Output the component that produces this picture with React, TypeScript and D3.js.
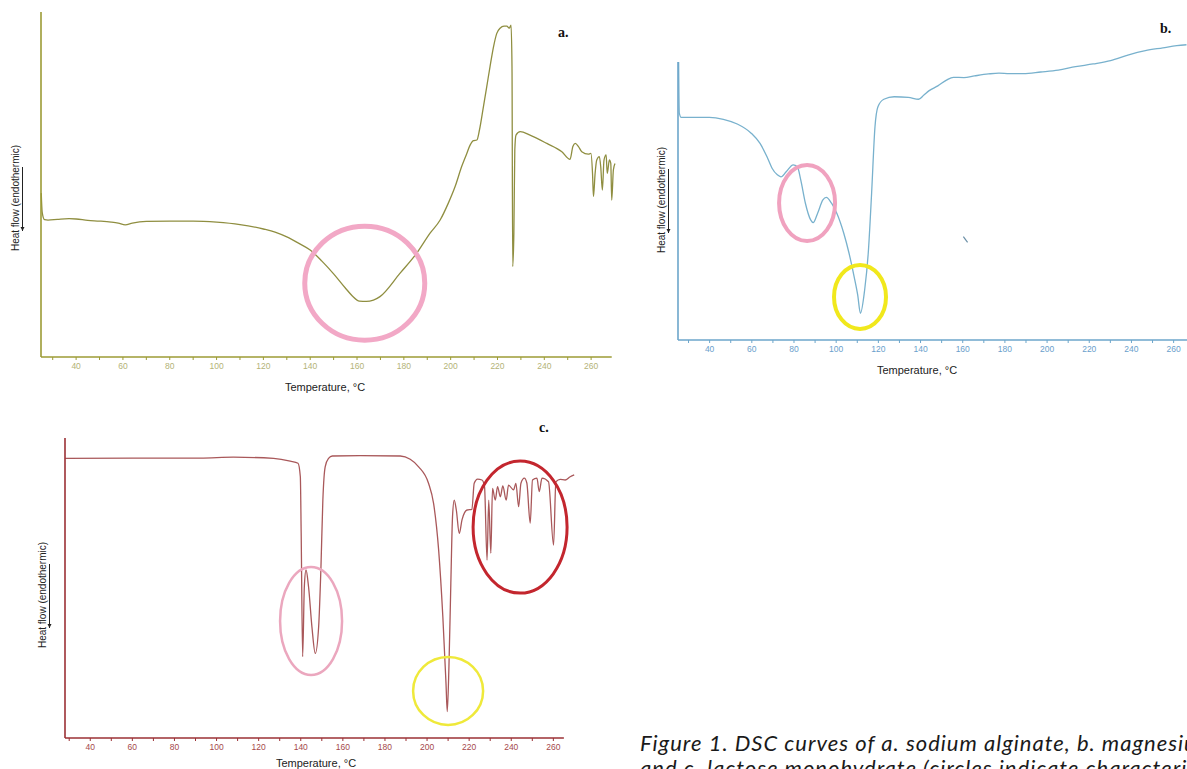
import React from "react";
import * as d3 from "d3";

// a. sodium alginate
const tempA = [25.1, 25.5, 26.5, 28, 32, 37, 40, 45, 50, 55, 58, 61, 64, 70, 80, 90, 100, 110, 120, 125, 130, 135, 140, 145, 150, 155, 158, 161, 164, 167, 169.8, 178.4, 185.5, 191.2, 195.5, 199, 201.9, 204.7, 206.9, 208.3, 209.7, 211.2, 212.3, 214, 215.4, 216.8, 218.3, 219.7, 221.1, 222.8, 224, 225, 225.8, 226.2, 226.5, 227, 227.4, 227.9, 229.7, 233.9, 241.1, 247.5, 251, 252.2, 253.2, 254.6, 256, 258.8, 259.9, 260.6, 261, 261.7, 262.4, 263.5, 264.1, 264.8, 265.5, 266.4, 266.9, 267.8, 268.4, 268.8, 269.5, 270.2];
const flowA = [47.5, 42.0, 39.8, 39.7, 39.9, 40.1, 40.0, 39.6, 39.4, 39.1, 38.8, 38.3, 38.8, 39.3, 39.4, 39.4, 39.1, 38.4, 37.1, 36.2, 34.8, 33.0, 31.0, 27.8, 24.1, 20.0, 17.7, 16.2, 16.1, 16.5, 17.5, 24.3, 30.1, 35.9, 39.7, 44.6, 49.4, 55.2, 59.0, 61.4, 62.7, 62.9, 65.8, 72.6, 78.3, 84.1, 89.9, 93.8, 95.3, 95.9, 95.9, 95.3, 96.2, 84.1, 26.2, 35.9, 60.0, 64.3, 65.3, 64.3, 61.9, 59.5, 57.3, 61.0, 61.9, 61.0, 59.5, 58.8, 59.0, 53.2, 46.5, 53.2, 57.1, 58.1, 55.2, 48.4, 57.1, 58.6, 53.2, 57.1, 56.1, 45.5, 54.2, 56.1];

// b. magnesium stearate
const tempB = [25.3, 25.6, 26.5, 27.5, 39.9, 46.5, 53.1, 59.7, 63.9, 67.2, 69.6, 72.1, 73.8, 76.3, 79.6, 81.6, 83.2, 85.4, 87.9, 89.1, 91.2, 93.7, 95.3, 97.8, 100.3, 103.6, 106.1, 108.5, 110.2, 111.5, 113.5, 115.2, 116.8, 118.4, 119.8, 122.6, 127.5, 134.2, 139.1, 141.6, 144.1, 148.2, 152.3, 155.6, 160.6, 165.6, 172.2, 177.2, 182.1, 188.8, 197, 205.3, 213.5, 221.8, 230.1, 238.3, 246.6, 254.9, 261.5, 266.1];
const flowB = [100, 81.7, 80.1, 80.1, 80.1, 79.4, 77.7, 74.4, 70.7, 65.9, 61.8, 59.4, 58.7, 60.5, 63.0, 62.3, 57.6, 49.2, 43.2, 42.2, 45.6, 50.4, 51.3, 49.2, 45.6, 38.4, 31.2, 22.8, 16.2, 9.6, 18.0, 31.2, 52.8, 76.7, 83.9, 86.6, 87.5, 87.3, 86.6, 88.1, 89.7, 91.4, 93.5, 94.5, 94.4, 95.0, 95.7, 96.0, 95.8, 95.8, 96.4, 97.1, 98.3, 99.3, 100.5, 102.5, 104.1, 105.1, 105.9, 106.2];
const strayB = [[160.3, 37.2], [162.3, 35.1]];

// c. lactose monohydrate
const tempC = [28.1, 60, 92.3, 108, 127.1, 135, 138.7, 139.8, 140.2, 140.9, 141.7, 142.5, 143.7, 145.3, 146.9, 148.5, 149.6, 150.5, 151.6, 153.2, 155, 168.3, 187.3, 192, 196, 200.7, 203.1, 205.5, 207.5, 209, 209.6, 210.4, 211.3, 212.1, 212.9, 213.9, 215.3, 216.6, 219, 221.3, 222.4, 224, 226.1, 227.3, 228.5, 229.3, 230.3, 231.1, 232.4, 233.5, 234.8, 236, 237.6, 238.7, 241.1, 242.2, 243.5, 244.6, 246.2, 247.4, 249, 250.1, 252.2, 253.3, 254.6, 257.7, 260.1, 261.2, 263.3, 265.6, 268, 269.9];
const flowC = [93.2, 93.3, 93.3, 93.6, 93.2, 92.3, 91.6, 87.1, 68.3, 27.1, 50.4, 56.0, 50.4, 37.1, 28.2, 37.1, 57.1, 79.3, 90.4, 93.2, 94.0, 94.1, 94.0, 92.9, 90.4, 84.9, 78.2, 62.7, 40.4, 18.2, 8.8, 23.8, 51.6, 73.8, 79.3, 76.0, 68.2, 72.7, 76.0, 76.2, 84.9, 86.3, 86.0, 83.8, 59.3, 79.3, 61.6, 83.2, 79.3, 83.8, 80.4, 84.0, 79.3, 84.3, 82.7, 84.9, 77.1, 84.9, 86.6, 85.0, 71.6, 86.0, 86.6, 82.1, 86.6, 85.4, 64.3, 85.4, 86.2, 86.0, 87.1, 87.7];

const minorTicks = d3.range(30, 261, 10);
const tickLabels = [40, 60, 80, 100, 120, 140, 160, 180, 200, 220, 240, 260];

// circles marking characteristic peaks: [temperature, heat flow]
const peaksA = [[163.3, 21.4]];
const peaksB = [[86.2, 49.3], [111.3, 15.5]];
const peaksC = [[144.9, 39], [210, 15.7], [244.2, 70.3]];

const captionLines = [
  "Figure 1. DSC curves of a. sodium alginate, b. magnesium stearate",
  "and c. lactose monohydrate (circles indicate characteristic peaks)",
];

const panels = [
  {
    id: "a", temp: tempA, flow: flowA, extra: null, peaks: peaksA,
    domain: [25, 270.2], axisEnd: 268.8,
    left: 41, right: 615, top: 12, bottom: 357,
    line: "#8f8e40", axis: "#9c9b35", label: "#b4b377",
    titleX: 325, titleDy: 34, ylabX: 15, ylabY: 198, tagX: 558, tagY: 37,
    rings: [{ rx: 60, ry: 57, c: "#f2a8c6", w: 5 }],
  },
  {
    id: "b", temp: tempB, flow: flowB, extra: strayB, peaks: peaksB,
    domain: [25, 268], axisEnd: 268,
    left: 678, right: 1190.5, top: 62, bottom: 340,
    line: "#78b1cd", axis: "#6ca6cb", label: "#6aa0cc",
    titleX: 917, titleDy: 34, ylabX: 661, ylabY: 200, tagX: 1160, tagY: 33,
    rings: [
      { rx: 28, ry: 38, c: "#f0a2bf", w: 4 },
      { rx: 26, ry: 32, c: "#f1e81c", w: 4 },
    ],
  },
  {
    id: "c", temp: tempC, flow: flowC, extra: null, peaks: peaksC,
    domain: [28, 270], axisEnd: 265,
    left: 65, right: 574.4, top: 438, bottom: 738,
    line: "#a9585a", axis: "#9b3035", label: "#a5494b",
    titleX: 316, titleDy: 29, ylabX: 42, ylabY: 595, tagX: 539, tagY: 432,
    rings: [
      { rx: 31, ry: 54, c: "#eba7be", w: 2.5 },
      { rx: 35, ry: 34, c: "#efe93a", w: 2.5 },
      { rx: 47, ry: 66, c: "#c3262e", w: 3 },
    ],
  },
];

function Panel({ p }) {
  const x = d3.scaleLinear().domain(p.domain).range([p.left, p.right]);
  const y = d3.scaleLinear().domain([0, 100]).range([p.bottom, p.top]);
  const pts = p.temp.map((t, i) => [t, p.flow[i]]);
  const line = d3
    .line()
    .x((d) => x(d[0]))
    .y((d) => y(d[1]))
    .curve(d3.curveMonotoneX);
  const ax = x.range()[0];
  return (
    <g>
      <path d={line(pts)} fill="none" stroke={p.line} strokeWidth={1.3} />
      {p.extra && (
        <path d={d3.line().x((d) => x(d[0])).y((d) => y(d[1]))(p.extra)} stroke="#6a8fa6" strokeWidth={1.2} />
      )}
      <line x1={ax} x2={ax} y1={y(0)} y2={y(100)} stroke={p.axis} strokeWidth={1.6} />
      <line x1={ax} x2={x(p.axisEnd)} y1={y(0)} y2={y(0)} stroke={p.axis} strokeWidth={1.3} />
      {minorTicks.map((t) => (
        <line key={t} x1={x(t)} x2={x(t)} y1={y(0)} y2={y(0) + 3} stroke={p.axis} strokeWidth={1} />
      ))}
      {tickLabels.map((t) => (
        <text key={t} x={x(t)} y={y(0) + 12} textAnchor="middle" fontSize={8.5} fill={p.label}
          fontFamily="Liberation Sans, Arial, sans-serif">{t}</text>
      ))}
      <text x={p.titleX} y={y(0) + p.titleDy} textAnchor="middle" fontSize={11} fill="#222"
        fontFamily="Liberation Sans, Arial, sans-serif">Temperature, °C</text>
      <g transform={`translate(${p.ylabX},${p.ylabY}) rotate(-90)`}>
        <text x={0} y={3.5} textAnchor="middle" fontSize={10} fill="#222"
          fontFamily="Liberation Sans, Arial, sans-serif">Heat flow (endothermic)</text>
        <line x1={-33} x2={31} y1={7.5} y2={7.5} stroke="#222" strokeWidth={1} />
        <path d="M-33,7.5 L-29,5.5 L-29,9.5 Z" fill="#222" />
      </g>
      <text x={p.tagX} y={p.tagY} fontSize={14} fontWeight="bold" fill="#111"
        fontFamily="Liberation Serif, Times New Roman, serif">{p.id}.</text>
      {p.peaks.map((d, i) => (
        <ellipse key={i} cx={x(d[0])} cy={y(d[1])} rx={p.rings[i].rx} ry={p.rings[i].ry}
          fill="none" stroke={p.rings[i].c} strokeWidth={p.rings[i].w} />
      ))}
    </g>
  );
}

export default function App() {
  return (
    <div style={{ position: "absolute", left: 0, top: 0 }}>
      <svg width={1187} height={769} style={{ display: "block", background: "#fff" }}>
        {panels.map((p) => (
          <Panel key={p.id} p={p} />
        ))}
        {captionLines.map((s, i) => (
          <text key={i} x={640} y={751 + i * 25} fontSize={22} letterSpacing={1} fontStyle="italic"
            fill="#1a1a1a" fontFamily="Lato, Open Sans, sans-serif">{s}</text>
        ))}
      </svg>
    </div>
  );
}
